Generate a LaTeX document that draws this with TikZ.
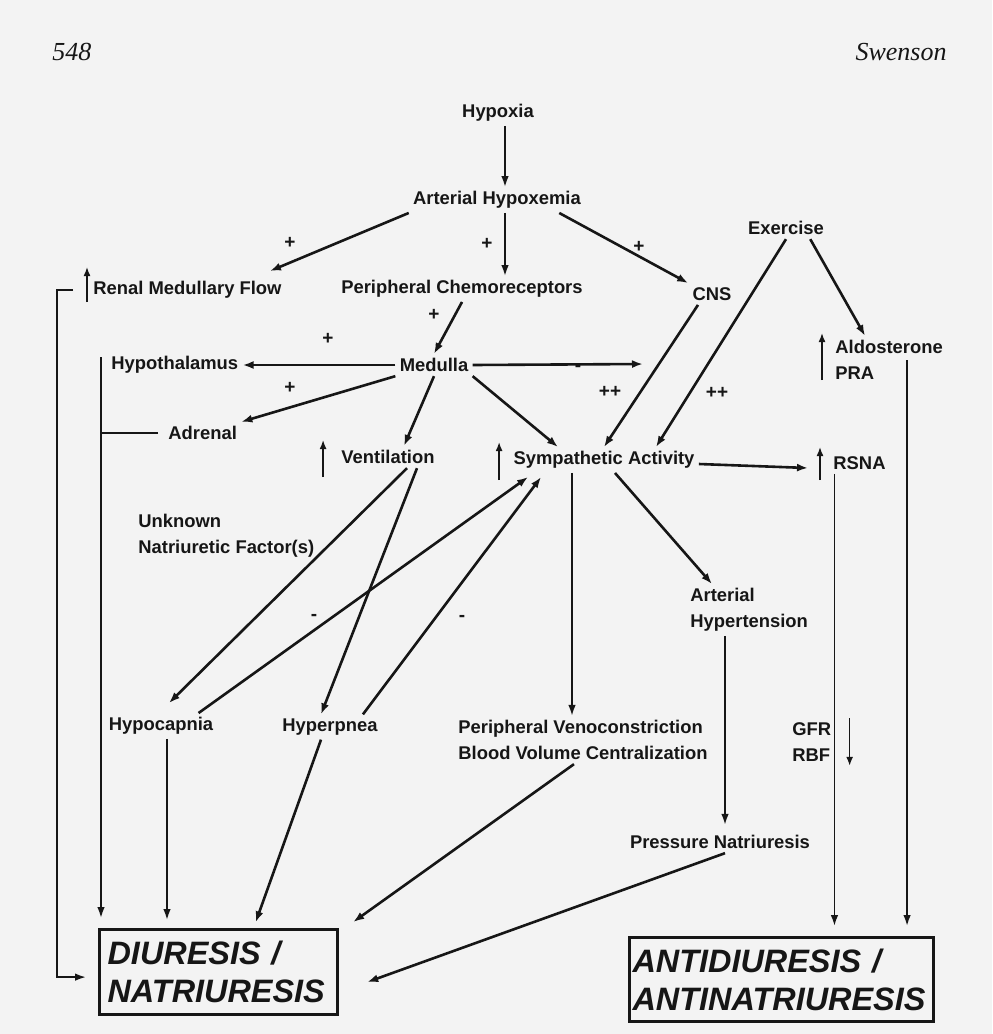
\documentclass[tikz,border=0pt]{standalone}
\usepackage{fontspec}
\setmainfont{Liberation Sans}
\newfontfamily\hdrfont{Liberation Serif}
\usetikzlibrary{arrows.meta}

\definecolor{ink}{HTML}{161616}
\definecolor{paper}{HTML}{F3F3F3}

\tikzset{
  lbl/.style={font=\bfseries\fontsize{9.2}{13}\selectfont, text=ink, inner sep=2pt},
  sgn/.style={font=\bfseries\fontsize{9.5}{11}\selectfont, text=ink, inner sep=0pt},
  head/.style={font=\hdrfont\itshape\fontsize{13}{15}\selectfont, text=ink, inner sep=0pt},
  bigbox/.style={draw=ink, line width=1.6pt, anchor=north west, align=left,
    font=\bfseries\itshape\fontsize{16.2}{19}\selectfont, text=ink, inner ysep=0pt},
  arr/.style={draw=ink, line width=1.3pt, -{Latex[length=5.5pt,width=4pt]}},
  varr/.style={draw=ink, line width=0.9pt, -{Latex[length=5.5pt,width=3.8pt]}},
  uparr/.style={draw=ink, line width=0.8pt, -{Latex[length=4.5pt,width=3.5pt]}},
  plain/.style={draw=ink, line width=0.9pt}
}

\begin{document}
\begin{tikzpicture}[x=0.5pt,y=-0.5pt]
  \fill[paper] (0,0) rectangle (992,1034);
  % running head
  \node[head, anchor=base west] (pgno) at (52,60) {548};
  \node[head, anchor=base east] (auth) at (947,60) {Swenson};

  % boxes and labels
  \node[lbl] (hypoxia) at (498,113) {Hypoxia};
  \node[lbl] (ahx) at (497,200) {Arterial Hypoxemia};
  \node[lbl, anchor=west] (rmf) at (89,290) {Renal Medullary Flow};
  \node[lbl] (pc) at (462,289) {Peripheral Chemoreceptors};
  \node[lbl] (cns) at (712,294) {CNS};
  \node[lbl] (exer) at (786,228) {Exercise};
  \node[lbl, anchor=west] (hypoth) at (107,365) {Hypothalamus};
  \node[lbl] (medulla) at (434,365) {Medulla};
  \node[lbl, anchor=west] (adrenal) at (164,433) {Adrenal};
  \node[lbl] (vent) at (388,457) {Ventilation};
  \node[lbl] (symp) at (604,460) {Sympathetic Activity};
  \node[lbl, anchor=west, align=left] (aldo) at (831,360) {Aldosterone\\PRA};
  \node[lbl, anchor=west] (rsna) at (829,463) {RSNA};
  \node[lbl, anchor=west, align=left] (unk) at (134,536) {Unknown\\Natriuretic Factor(s)};
  \node[lbl] (hypoc) at (161,726) {Hypocapnia};
  \node[lbl] (hyperp) at (330,727) {Hyperpnea};
  \node[lbl, anchor=west, align=left] (pvbvc) at (454,740) {Peripheral Venoconstriction\\Blood Volume Centralization};
  \node[lbl, anchor=west, align=left] (ahy) at (686,610) {Arterial\\Hypertension};
  \node[lbl, anchor=west, align=left] (gfr) at (788,742) {GFR\\RBF};
  \node[lbl] (presn) at (720,842) {Pressure Natriuresis};
  \node[bigbox, minimum width=119pt, minimum height=42.5pt, inner xsep=4pt, text width=111pt]
    (diur) at (98,928) {DIURESIS /\\NATRIURESIS};
  \node[bigbox, minimum width=152pt, minimum height=42pt, inner xsep=1.5pt, text width=149pt]
    (anti) at (628,936) {ANTIDIURESIS /\\ANTINATRIURESIS};
  \coordinate (medr) at (643,364);

  % signs
  \node[sgn] (s1) at (290,243) {+};
  \node[sgn] (s2) at (487,244) {+};
  \node[sgn] (s3) at (639,247) {+};
  \node[sgn] (s4) at (434,315) {+};
  \node[sgn] (s5) at (328,339) {+};
  \node[sgn] (s6) at (290,388) {+};
  \node[sgn] (s7) at (578,368) {-};
  \node[sgn] (s8) at (610,392) {++};
  \node[sgn] (s9) at (717,393) {++};
  \node[sgn] (s10) at (314,617) {-};
  \node[sgn] (s11) at (462,618) {-};

  % upper part
  \draw[varr] ([xshift=3.5pt]hypoxia.south) -- ([xshift=4pt]ahx.north);
  \draw[arr] (ahx.south west) -- ([xshift=-8pt,yshift=3pt]rmf.north east);
  \draw[varr] ([xshift=4pt]ahx.south) -- ([xshift=4pt]ahx.south |- pc.north);
  \draw[arr] ([xshift=-13pt]ahx.south east) -- (cns.north west);
  \draw[arr] (pc.south) -- (medulla.north);
  \draw[arr] (medulla.west) -- (hypoth.east);
  \draw[arr] (medulla.east) -- (medr);
  \draw[arr] (medulla.south west) -- (adrenal.north east);
  \draw[arr] (medulla.south) -- ([xshift=8pt]vent.north);
  \draw[arr] (medulla.south east) -- ([xshift=-23pt]symp.north);
  \draw[arr] ([xshift=-7pt]cns.south) -- (symp.north);
  \draw[arr] (exer.south) -- ([xshift=26pt]symp.north);
  \draw[arr] ([xshift=-9pt]exer.south east) -- ([xshift=-12pt]aldo.north);
  \draw[arr] ([yshift=-2pt]symp.east) -- ([xshift=-10.5pt,yshift=-2.5pt]rsna.west);

  % middle part
  \draw[arr] ([xshift=9.5pt]vent.south) -- ([xshift=4pt,yshift=5pt]hypoc.north);
  \draw[arr] ([xshift=14.5pt]vent.south) -- ([xshift=-4.5pt]hyperp.north);
  \draw[arr] ([xshift=-9.5pt]hypoc.north east) -- ([xshift=9.5pt,yshift=-2pt]symp.south west);
  \draw[arr] ([xshift=-9.5pt]hyperp.north east) -- ([xshift=16pt,yshift=-2pt]symp.south west);
  \draw[varr] ([xshift=-16pt]symp.south) -- ([xshift=-16pt]symp.south |- pvbvc.north);
  \draw[arr] ([xshift=5.5pt]symp.south) -- ([xshift=13pt]ahy.north west);
  \draw[varr] ([xshift=2.5pt]presn.north |- ahy.south) -- ([xshift=2.5pt,yshift=3pt]presn.north);

  % lower part
  \draw[varr, shorten >=4pt] ([xshift=3pt]hypoc.south) -- ([xshift=3pt]hypoc.south |- diur.north);
  \draw[arr, shorten >=3pt] ([xshift=-4.5pt]hyperp.south) -- ([xshift=17.5pt]diur.north);
  \draw[arr] ([xshift=-4.5pt]pvbvc.south) -- ([xshift=7pt,yshift=3pt]diur.north east);
  \draw[arr] ([xshift=2.5pt]presn.south) -- ([xshift=14pt,yshift=-5pt]diur.east);
  \draw[varr, shorten >=5pt] ([xshift=-3pt,yshift=4pt]hypoth.west) -- ([xshift=-3pt]hypoth.west |- diur.north);
  \draw[plain, shorten <=3pt] (adrenal.west) -- ([xshift=-3pt]hypoth.west |- adrenal.west);
  \draw[varr] ([xshift=-8pt]rmf.west) -- ++(-16,0) |- ([xshift=-6pt,yshift=-2.5pt]diur.west);
  \draw[varr, shorten >=5pt] ([xshift=-12.5pt]rsna.south) -- ([xshift=-12.5pt]rsna.south |- anti.north);
  \draw[varr, shorten >=5pt] ([xshift=9pt]aldo.center) -- ([xshift=9pt]aldo.center |- anti.north);

  % small up / down marks
  \draw[uparr] ([xshift=-1pt,yshift=-6pt]rmf.west) -- ++(0,-35);
  \draw[uparr] ([xshift=-7pt,yshift=-10pt]vent.west) -- ++(0,-37);
  \draw[uparr] ([xshift=-5pt,yshift=-10pt]symp.west) -- ++(0,-38);
  \draw[uparr] ([xshift=-4.5pt,yshift=-10pt]aldo.west) -- ++(0,-47);
  \draw[uparr] ([xshift=-4.5pt,yshift=-8.5pt]rsna.west) -- ++(0,-33);
  \draw[uparr] ([xshift=7pt]gfr.north east) -- ([xshift=7pt]gfr.south east);
\end{tikzpicture}
\end{document}
